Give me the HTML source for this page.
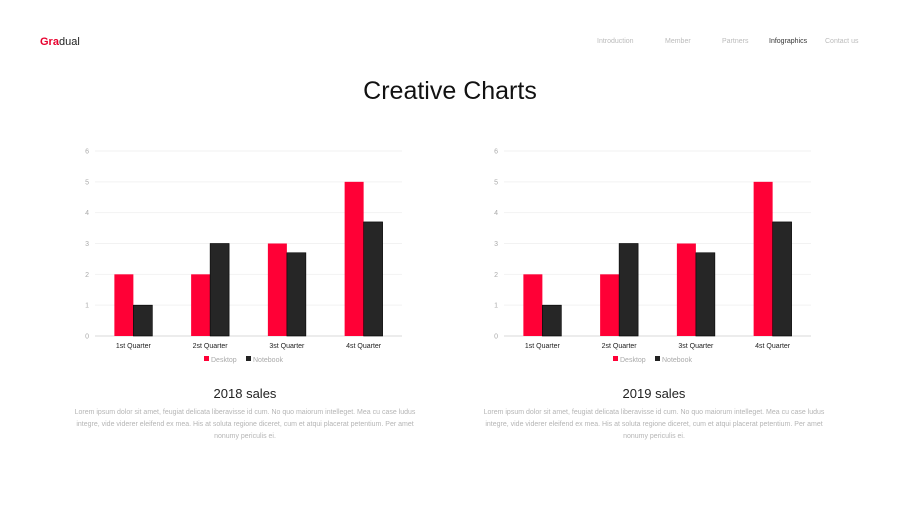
<!DOCTYPE html>
<html><head><meta charset="utf-8"><style>
body{margin:0;width:900px;height:506px;background:#fff;font-family:"Liberation Sans",sans-serif;position:relative;overflow:hidden}
.abs{position:absolute}
.nav{top:38px;font-size:7px;color:#bbb}
.p{font-size:7px;color:#b5b5b5;text-align:center;line-height:12px;width:352px}
.st{font-size:13px;color:#222;text-align:center;width:350px}
</style></head><body>
<div class="abs" style="left:40px;top:36px;font-size:11px;color:#222"><b style="color:#e8002d">Gra</b>dual</div>
<div class="abs nav" style="left:597px">Introduction</div>
<div class="abs nav" style="left:665px">Member</div>
<div class="abs nav" style="left:722px">Partners</div>
<div class="abs nav" style="left:769px;color:#333">Infographics</div>
<div class="abs nav" style="left:825px">Contact us</div>
<div class="abs" style="left:0;width:900px;top:77px;text-align:center;font-size:25px;color:#111">Creative Charts</div>
<svg class="abs" style="left:0;top:0" width="900" height="506" id="svg"></svg>
<div class="abs st" style="left:70px;top:386px">2018 sales</div>
<div class="abs p" style="left:69px;top:407px">Lorem ipsum dolor sit amet, feugiat delicata liberavisse id cum. No quo maiorum intelleget. Mea cu case ludus integre, vide viderer eleifend ex mea. His at soluta regione diceret, cum et atqui placerat petentium. Per amet nonumy periculis ei.</div>
<div class="abs st" style="left:479px;top:386px">2019 sales</div>
<div class="abs p" style="left:478px;top:407px">Lorem ipsum dolor sit amet, feugiat delicata liberavisse id cum. No quo maiorum intelleget. Mea cu case ludus integre, vide viderer eleifend ex mea. His at soluta regione diceret, cum et atqui placerat petentium. Per amet nonumy periculis ei.</div>
<script>
const categories=["1st Quarter","2st Quarter","3st Quarter","4st Quarter"];
const desktop2018=[2,2,3,5];
const notebook2018=[1,3,2.7,3.7];
const desktop2019=[2,2,3,5];
const notebook2019=[1,3,2.7,3.7];
const yTicks=[0,1,2,3,4,5,6];
const NS="http://www.w3.org/2000/svg";
const svg=document.getElementById('svg');
function mk(t,a,p){const e=document.createElementNS(NS,t);for(const k in a)e.setAttribute(k,a[k]);(p||svg).appendChild(e);return e;}
function chart(x0,d,n,name){
  const g=mk('g',{});
  
  
  const x1=x0+307,yb=336,yt=151;
  const y=v=>yb-(v/6)*(yb-yt);
  const bw=(x1-x0)/categories.length;
  yTicks.forEach(t=>{
    const l=mk('line',{x1:x0,x2:x1,y1:y(t),y2:y(t),stroke:t?'#f2f2f2':'#d9d9d9','stroke-width':1},g);
    
    
    const tx=mk('text',{x:x0-6,y:y(t)+2.5,'text-anchor':'end','font-size':7,fill:'#aaa'},g);
    tx.textContent=t;
    
    
  });
  categories.forEach((c,i)=>{
    const cx=x0+bw*(i+0.5);
    const r1=mk('rect',{x:cx-19,y:y(d[i]),width:19,height:yb-y(d[i]),fill:'#ff0036'},g);
    
    
    const r2=mk('rect',{x:cx,y:y(n[i]),width:19,height:yb-y(n[i]),fill:'#262626',stroke:'#000','stroke-width':0.6},g);
    
    
    const tx=mk('text',{x:cx,y:348,'text-anchor':'middle','font-size':7,fill:'#222'},g);
    tx.textContent=c;
    
    
  });
  const lx=x0+109;
  const s1=mk('rect',{x:lx,y:356,width:5,height:5,fill:'#ff0036'},g);
  
  
  const t1=mk('text',{x:lx+7,y:362,'font-size':7,fill:'#aaa'},g);t1.textContent='Desktop';
  
  
  const s2=mk('rect',{x:lx+42,y:356,width:5,height:5,fill:'#222'},g);
  
  
  const t2=mk('text',{x:lx+49,y:362,'font-size':7,fill:'#aaa'},g);t2.textContent='Notebook';
  
  
}
chart(95,desktop2018,notebook2018,'chart-2018');
chart(504,desktop2019,notebook2019,'chart-2019');
</script>
</body></html>
